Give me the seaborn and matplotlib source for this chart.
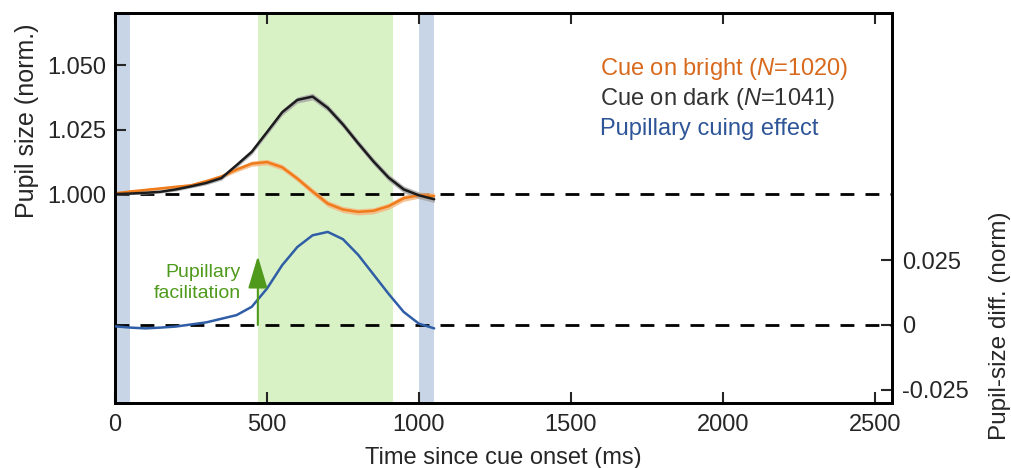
import numpy as np
import pandas as pd
import matplotlib
matplotlib.use("Agg")
import matplotlib.pyplot as plt
import seaborn as sns

# ---- data ----
time_ms = [0, 50, 100, 150, 200, 250, 300, 350, 400, 450, 500, 550, 600, 650,
           700, 750, 800, 850, 900, 950, 1000, 1050]

cue_dark = [1.000, 1.0002, 1.0005, 1.0009, 1.0018, 1.003, 1.0043, 1.0062, 1.0112, 1.0164,
            1.024, 1.0317, 1.0365, 1.0378, 1.0334, 1.027, 1.0197, 1.0127, 1.0064, 1.0018,
            0.9995, 0.998]
dark_se = [0.0004, 0.0004, 0.0005, 0.0005, 0.0006, 0.0006, 0.0007, 0.0008, 0.0009, 0.0010,
           0.0011, 0.0012, 0.0012, 0.0013, 0.0013, 0.0013, 0.0013, 0.0013, 0.0013, 0.0013,
           0.0013, 0.0013]

cue_bright = [1.0003, 1.001, 1.0016, 1.0022, 1.0028, 1.0034, 1.005, 1.0068, 1.0095, 1.0118,
              1.0124, 1.0104, 1.006, 1.001, 0.9963, 0.994, 0.9931, 0.9935, 0.9953, 0.9984,
              0.9996, 0.9992]
bright_se = [0.0004, 0.0004, 0.0005, 0.0005, 0.0006, 0.0006, 0.0007, 0.0008, 0.0009, 0.0010,
             0.0011, 0.0011, 0.0011, 0.0012, 0.0012, 0.0012, 0.0012, 0.0012, 0.0012, 0.0012,
             0.0012, 0.0012]

cuing_effect = [-0.0005, -0.001, -0.0013, -0.001, -0.0006, 0.0002, 0.001, 0.0024, 0.0038,
                0.007, 0.014, 0.023, 0.030, 0.0345, 0.0358, 0.033, 0.027, 0.0195, 0.012,
                0.005, 0.0005, -0.0013]

blue_windows = [(0, 50), (1000, 1050)]
green_window = (470, 915)

left_ticks = [1.000, 1.025, 1.050]
left_ticklabels = ["1.000", "1.025", "1.050"]
right_ticks = [-0.025, 0, 0.025]
right_ticklabels = ["-0.025", "0", "0.025"]
x_ticks = [0, 500, 1000, 1500, 2000, 2500]

# ---- style ----
sns.set_style("ticks")
plt.rcParams['font.family'] = ['Liberation Sans', 'DejaVu Sans']
plt.rcParams['mathtext.fontset'] = 'custom'
plt.rcParams['mathtext.rm'] = 'Liberation Sans'
plt.rcParams['mathtext.it'] = 'Liberation Sans:italic'

FS = 17

c_orange = "#ef7b1b"
c_orange_band = "#f6b983"
c_dark = "#1c1c1c"
c_dark_band = "#a8a8a8"
c_blue = "#2f5ea6"
c_green = "#4f9a1c"

df = pd.DataFrame({"time": time_ms, "dark": cue_dark, "bright": cue_bright,
                   "diff": cuing_effect})
dark_lo = np.array(cue_dark) - np.array(dark_se)
dark_hi = np.array(cue_dark) + np.array(dark_se)
bright_lo = np.array(cue_bright) - np.array(bright_se)
bright_hi = np.array(cue_bright) + np.array(bright_se)

fig = plt.figure(figsize=(10.12, 4.68), dpi=100)
ax = fig.add_axes([0.1136, 0.1389, 0.7678, 0.8333])

# shaded windows
for a, b in blue_windows:
    ax.axvspan(a, b, color="#c7d5e6", lw=0, zorder=0)
ax.axvspan(green_window[0], green_window[1], color="#d8f2c6", lw=0, zorder=0)

ax.axhline(1.0, color="black", lw=2, linestyle=(0, (5, 4)), zorder=1)

ax.fill_between(time_ms, bright_lo, bright_hi, color=c_orange_band, alpha=0.85, lw=0, zorder=2)
ax.fill_between(time_ms, dark_lo, dark_hi, color=c_dark_band, alpha=0.85, lw=0, zorder=2)
sns.lineplot(data=df, x="time", y="bright", ax=ax, color=c_orange, lw=1.8, zorder=3)
sns.lineplot(data=df, x="time", y="dark", ax=ax, color=c_dark, lw=1.8, zorder=3)

ax.set_xlim(0, 2556)
ax.set_ylim(0.919, 1.0702)
ax.set_xticks(x_ticks)
ax.set_yticks(left_ticks)
ax.set_yticklabels(left_ticklabels)
ax.set_xlabel("Time since cue onset (ms)", fontsize=FS, labelpad=8)
ax.set_ylabel("")
ax.tick_params(axis="both", direction="in", length=8, width=1.5, labelsize=FS, pad=6,
               top=True, right=False)
ax.tick_params(axis="x", pad=8)

# right axis with the difference curve
ax2 = ax.twinx()
ax2.axhline(0, color="black", lw=2, linestyle=(0, (5, 4)), zorder=1)
sns.lineplot(data=df, x="time", y="diff", ax=ax2, color=c_blue, lw=1.8, zorder=3)
ax2.set_ylim(-0.030, 0.120)
ax2.set_yticks(right_ticks)
ax2.set_yticklabels(right_ticklabels)
ax2.set_ylabel("")
ax2.tick_params(axis="y", direction="in", length=8, width=1.5, labelsize=FS, pad=7)

ax2.annotate("", xy=(green_window[0], 0.0265), xytext=(green_window[0], 0),
             arrowprops=dict(arrowstyle="-|>,head_length=1.0,head_width=0.3",
                             color=c_green, lw=1.5, mutation_scale=20, shrinkA=0, shrinkB=0))
ax2.text(415, 0.0162, "Pupillary\nfacilitation", color=c_green, fontsize=14,
         ha="right", va="center", multialignment="right", linespacing=1.25)

for a_ in (ax, ax2):
    for s in a_.spines.values():
        s.set_linewidth(2)
        s.set_color("black")

# colored text legend
ax.text(0.624, 0.841, r"Cue on bright ($\mathit{N}$=1020)", color="#d86a1e",
        fontsize=FS, transform=ax.transAxes, va="baseline")
ax.text(0.624, 0.764, r"Cue on dark ($\mathit{N}$=1041)", color="#333333",
        fontsize=FS, transform=ax.transAxes, va="baseline")
ax.text(0.624, 0.687, "Pupillary cuing effect", color="#2e5597",
        fontsize=FS, transform=ax.transAxes, va="baseline")

fig.text(0.027, 0.741, "Pupil size (norm.)", rotation=90, fontsize=18, ha="center", va="center")
fig.text(0.988, 0.303, "Pupil-size diff. (norm)", rotation=90, fontsize=17.5, ha="center", va="center")

fig.savefig("out.png", dpi=100)
